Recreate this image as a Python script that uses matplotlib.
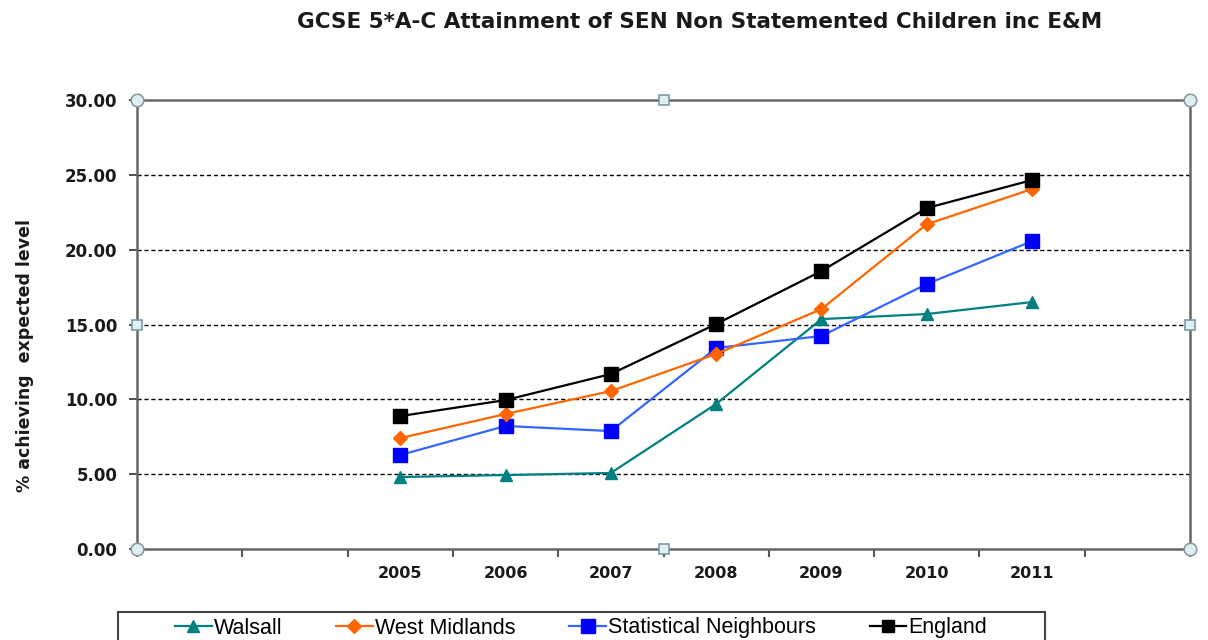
import numpy as np
import matplotlib
matplotlib.use("Agg")
import matplotlib.pyplot as plt
from matplotlib.patches import Rectangle

# category slots along the x axis (blank slots are empty in the original)
categories = ["", "", "2005", "2006", "2007", "2008", "2009", "2010", "2011", ""]
years = ["2005", "2006", "2007", "2008", "2009", "2010", "2011"]

walsall = [4.81, 4.94, 5.08, 9.69, 15.36, 15.70, 16.50]
west_midlands = [7.41, 9.02, 10.55, 13.03, 16.03, 21.70, 24.05]
stat_neighbours = [6.28, 8.22, 7.88, 13.43, 14.23, 17.70, 20.57]
england = [8.88, 9.95, 11.69, 15.03, 18.57, 22.78, 24.65]

yticks = [0, 5, 10, 15, 20, 25, 30]

W, H = 1208, 640
fig = plt.figure(figsize=(W / 100, H / 100), dpi=100)
ax = fig.add_axes([137 / W, 1 - 549 / H, (1190 - 137) / W, (549 - 100) / H])

xpos = [categories.index(y) for y in years]

ax.plot(xpos, walsall, color="#008080", lw=1.6, marker="^", ms=9,
        mfc="#008080", mec="#008080", label="Walsall", zorder=3)
ax.plot(xpos, west_midlands, color="#FF6600", lw=1.6, marker="D", ms=7.5,
        mfc="#FF6600", mec="#FF6600", label="West Midlands", zorder=4)
ax.plot(xpos, stat_neighbours, color="#3366FF", lw=1.6, marker="s", ms=10.5,
        mfc="#0000FF", mec="#0000FF", label="Statistical Neighbours", zorder=3)
ax.plot(xpos, england, color="#000000", lw=1.6, marker="s", ms=9.5,
        mfc="#000000", mec="#000000", label="England", zorder=5)

ax.set_xlim(-0.5, len(categories) - 0.5)
ax.set_ylim(0, 30)

# category boundary ticks, labels centered
ax.set_xticks(np.arange(len(categories) + 1) - 0.5)
ax.set_xticklabels([])
ax.set_xticks(np.arange(len(categories)), minor=True)
ax.set_xticklabels(categories, minor=True, fontsize=11.5, fontweight="bold",
                   color="#1a1a1a")
ax.tick_params(axis="x", which="major", direction="out", length=6, width=1.5,
               color="#555555")
ax.tick_params(axis="x", which="minor", length=0, pad=12)

ax.set_yticks(yticks)
ax.set_yticklabels(["%.2f" % v for v in yticks], fontsize=12,
                   fontweight="bold", color="#1a1a1a")
ax.tick_params(axis="y", direction="out", length=6, width=1.2, color="#333333",
               pad=8)

for v in yticks[1:-1]:
    ax.axhline(v, color="black", lw=1.0, ls=(0, (3, 2)), zorder=1)

for sp in ax.spines.values():
    sp.set_color("#666666")
    sp.set_linewidth(1.8)

# selection handles from the original screenshot
for (hx, hy) in [(0, 0), (1, 0), (0, 1), (1, 1)]:
    ax.plot(hx, hy, marker="o", ms=9, mfc="#dff0f5", mec="#8a9aa0", mew=1.2,
            transform=ax.transAxes, clip_on=False, zorder=10)
for (hx, hy) in [(0.5, 0), (0.5, 1), (0, 0.5), (1, 0.5)]:
    ax.plot(hx, hy, marker="s", ms=7, mfc="#dff0f5", mec="#7a9aa8", mew=1.2,
            transform=ax.transAxes, clip_on=False, zorder=10)

fig.text(700 / W, 1 - 22 / H,
         "GCSE 5*A-C Attainment of SEN Non Statemented Children inc E&M",
         ha="center", va="center", fontsize=15.5, fontweight="bold",
         color="#1a1a1a")
fig.text(25 / W, 1 - 355 / H, "% achieving  expected level", rotation=90,
         ha="center", va="center", fontsize=12.5, fontweight="bold",
         color="#1a1a1a")

fig.patches.append(Rectangle((118 / W, -5 / H), (1045 - 118) / W, 33 / H,
                             transform=fig.transFigure, fill=False,
                             edgecolor="#444444", lw=1.5))
leg = fig.legend(loc="center left", bbox_to_anchor=(175 / W, 1 - 628 / H),
                 ncol=4, frameon=False, prop={"family": "Liberation Sans",
                                              "size": 15.5},
                 handlelength=1.7, handletextpad=0.1, columnspacing=2.5,
                 borderpad=0, borderaxespad=0, markerscale=0.9)

fig.savefig("out.png", dpi=100)
